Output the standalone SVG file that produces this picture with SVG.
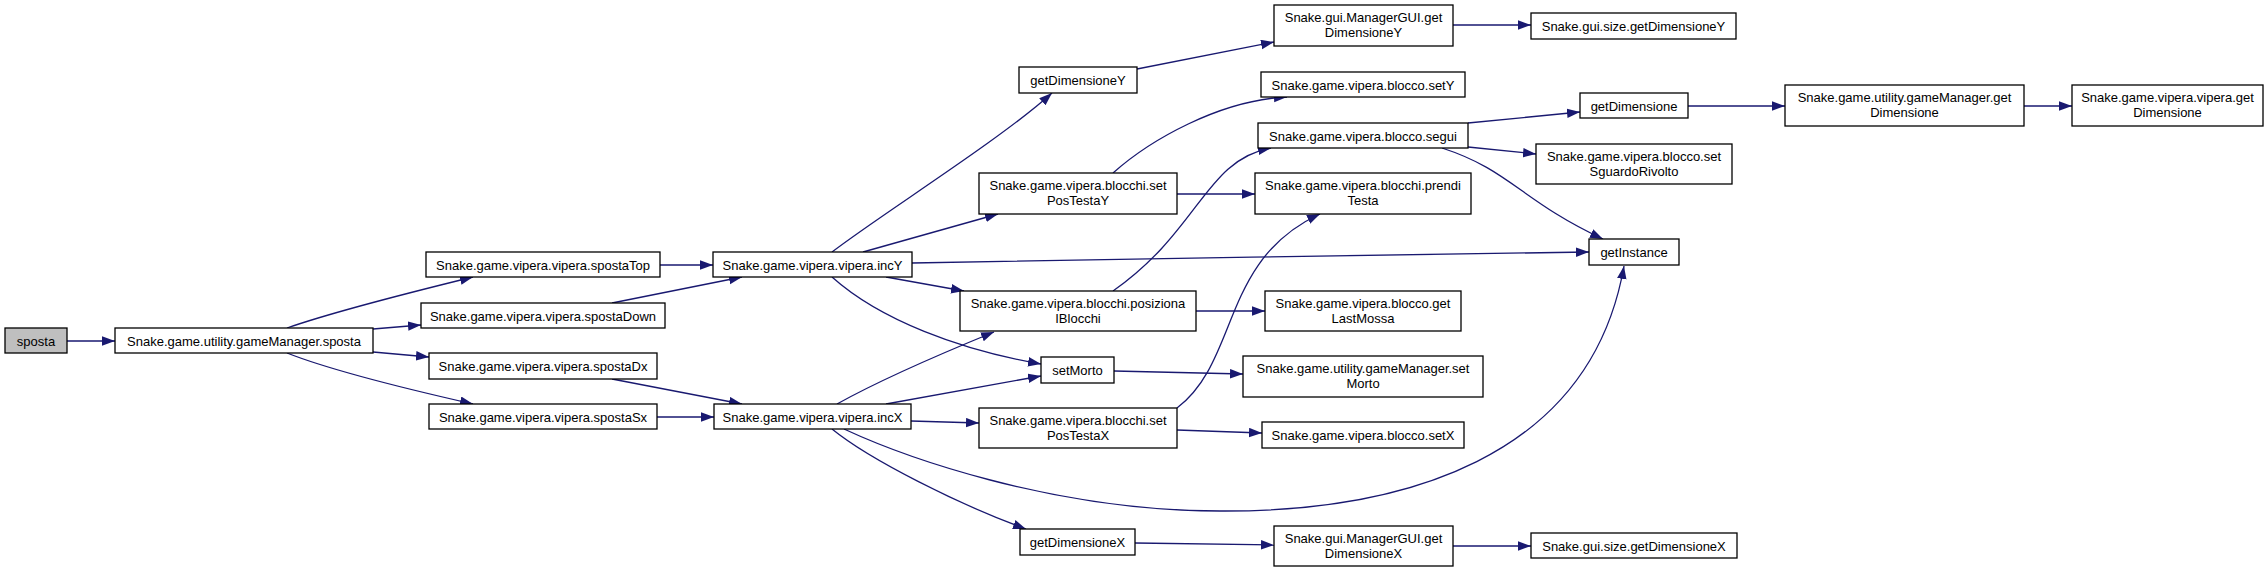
<svg xmlns="http://www.w3.org/2000/svg" width="2268" height="572" viewBox="0 0 2268 572">
<style>
.n rect{fill:#fff;stroke:#000;stroke-width:1.3}
.n.root rect{fill:#bfbfbf}
.n text{font-family:"Liberation Sans",Arial,sans-serif;font-size:13px;fill:#000;text-anchor:middle}
.e path{fill:none;stroke:#191970;stroke-width:1.3;marker-end:url(#ah)}
</style>
<defs>
<marker id="ah" markerUnits="userSpaceOnUse" markerWidth="14" markerHeight="11" refX="13" refY="4.75" orient="auto">
<path d="M0,0 L13,4.75 L0,9.5 z" fill="#191970"/>
</marker>
</defs>
<rect x="0" y="0" width="2268" height="572" fill="#fff"/>
<g id="edges" class="e">
<path d="M67,341 L115,341"/>
<path d="M287,328 C330,313 420,290 473,277"/>
<path d="M373,329 L421,325"/>
<path d="M373,352 L429,357"/>
<path d="M287,353 C330,370 420,392 473,404"/>
<path d="M660,265 L713,265"/>
<path d="M612,303 L742,277"/>
<path d="M612,379 L742,404"/>
<path d="M657,417 L714,417"/>
<path d="M832,252 C880,215 1000,140 1052,93"/>
<path d="M863,252 L998,214"/>
<path d="M912,263 C1100,260 1400,254 1589,252"/>
<path d="M886,277 L964,291"/>
<path d="M832,277 C880,320 960,350 1041,364"/>
<path d="M837,404 C880,380 950,350 994,332"/>
<path d="M886,404 L1041,376"/>
<path d="M911,421 L979,423"/>
<path d="M844,429 C900,455 1050,511 1220,511 C1400,512 1590,460 1624,266"/>
<path d="M832,429 C870,460 960,505 1026,529"/>
<path d="M1137,69 L1274,42"/>
<path d="M1452,25 L1531,25"/>
<path d="M1113,173 C1150,140 1220,100 1287,97"/>
<path d="M1177,194 L1255,194"/>
<path d="M1113,291 C1200,230 1205,160 1271,148"/>
<path d="M1196,311 L1265,311"/>
<path d="M1114,371 L1243,374"/>
<path d="M1177,408 C1240,360 1220,260 1320,214"/>
<path d="M1177,430 L1262,433"/>
<path d="M1135,543 L1274,545"/>
<path d="M1453,546 L1531,546"/>
<path d="M1468,123 L1580,112"/>
<path d="M1468,147 L1536,154"/>
<path d="M1442,148 C1510,170 1520,200 1603,239"/>
<path d="M1688,106 L1785,106"/>
<path d="M2024,106 L2072,106"/>
</g>
<g id="n1" class="n root"><rect x="5" y="328" width="62" height="25"/><text x="36" y="345.5">sposta</text></g>
<g id="n2" class="n"><rect x="115" y="328" width="258" height="25"/><text x="244" y="345.5">Snake.game.utility.gameManager.sposta</text></g>
<g id="n3" class="n"><rect x="426" y="252" width="234" height="25"/><text x="543" y="269.5">Snake.game.vipera.vipera.spostaTop</text></g>
<g id="n4" class="n"><rect x="421" y="303" width="244" height="25"/><text x="543" y="320.5">Snake.game.vipera.vipera.spostaDown</text></g>
<g id="n5" class="n"><rect x="429" y="353" width="228" height="26"/><text x="543" y="370.5">Snake.game.vipera.vipera.spostaDx</text></g>
<g id="n6" class="n"><rect x="429" y="404" width="228" height="25"/><text x="543" y="421.5">Snake.game.vipera.vipera.spostaSx</text></g>
<g id="n7" class="n"><rect x="713" y="252" width="199" height="25"/><text x="812.5" y="269.5">Snake.game.vipera.vipera.incY</text></g>
<g id="n8" class="n"><rect x="714" y="404" width="197" height="25"/><text x="812.5" y="421.5">Snake.game.vipera.vipera.incX</text></g>
<g id="n9" class="n"><rect x="1019" y="67" width="118" height="26"/><text x="1078" y="84.5">getDimensioneY</text></g>
<g id="n10" class="n"><rect x="979" y="173" width="198" height="41"/><text x="1078" y="190">Snake.game.vipera.blocchi.set</text><text x="1078" y="205">PosTestaY</text></g>
<g id="n11" class="n"><rect x="960" y="291" width="236" height="40"/><text x="1078" y="308">Snake.game.vipera.blocchi.posiziona</text><text x="1078" y="323">IBlocchi</text></g>
<g id="n12" class="n"><rect x="1041" y="357" width="73" height="26"/><text x="1077.5" y="374.5">setMorto</text></g>
<g id="n13" class="n"><rect x="979" y="408" width="198" height="40"/><text x="1078" y="425">Snake.game.vipera.blocchi.set</text><text x="1078" y="440">PosTestaX</text></g>
<g id="n14" class="n"><rect x="1020" y="529" width="115" height="26"/><text x="1077.5" y="546.5">getDimensioneX</text></g>
<g id="n15" class="n"><rect x="1274" y="5" width="179" height="41"/><text x="1363.5" y="22">Snake.gui.ManagerGUI.get</text><text x="1363.5" y="37">DimensioneY</text></g>
<g id="n16" class="n"><rect x="1261" y="72" width="204" height="25"/><text x="1363" y="89.5">Snake.game.vipera.blocco.setY</text></g>
<g id="n17" class="n"><rect x="1258" y="123" width="210" height="25"/><text x="1363" y="140.5">Snake.game.vipera.blocco.segui</text></g>
<g id="n18" class="n"><rect x="1255" y="173" width="216" height="41"/><text x="1363" y="190">Snake.game.vipera.blocchi.prendi</text><text x="1363" y="205">Testa</text></g>
<g id="n19" class="n"><rect x="1265" y="291" width="196" height="40"/><text x="1363" y="308">Snake.game.vipera.blocco.get</text><text x="1363" y="323">LastMossa</text></g>
<g id="n20" class="n"><rect x="1243" y="356" width="240" height="41"/><text x="1363" y="373">Snake.game.utility.gameManager.set</text><text x="1363" y="388">Morto</text></g>
<g id="n21" class="n"><rect x="1262" y="422" width="202" height="26"/><text x="1363" y="439.5">Snake.game.vipera.blocco.setX</text></g>
<g id="n22" class="n"><rect x="1274" y="526" width="179" height="40"/><text x="1363.5" y="543">Snake.gui.ManagerGUI.get</text><text x="1363.5" y="558">DimensioneX</text></g>
<g id="n23" class="n"><rect x="1531" y="13" width="205" height="26"/><text x="1633.5" y="30.5">Snake.gui.size.getDimensioneY</text></g>
<g id="n24" class="n"><rect x="1580" y="93" width="108" height="25"/><text x="1634" y="110.5">getDimensione</text></g>
<g id="n25" class="n"><rect x="1536" y="144" width="196" height="40"/><text x="1634" y="161">Snake.game.vipera.blocco.set</text><text x="1634" y="176">SguardoRivolto</text></g>
<g id="n26" class="n"><rect x="1589" y="239" width="90" height="26"/><text x="1634" y="256.5">getInstance</text></g>
<g id="n27" class="n"><rect x="1531" y="533" width="206" height="25"/><text x="1634" y="550.5">Snake.gui.size.getDimensioneX</text></g>
<g id="n28" class="n"><rect x="1785" y="85" width="239" height="41"/><text x="1904.5" y="102">Snake.game.utility.gameManager.get</text><text x="1904.5" y="117">Dimensione</text></g>
<g id="n29" class="n"><rect x="2072" y="85" width="191" height="41"/><text x="2167.5" y="102">Snake.game.vipera.vipera.get</text><text x="2167.5" y="117">Dimensione</text></g>
</svg>
